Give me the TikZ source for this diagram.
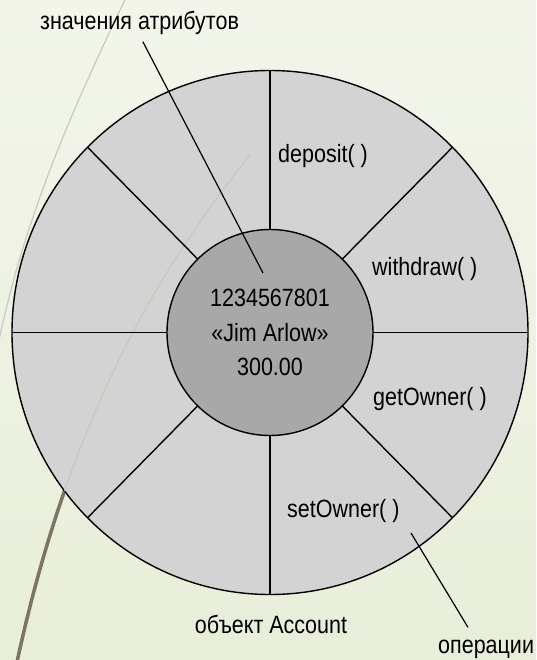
\documentclass[tikz,border=0pt]{standalone}
\usepackage{fontspec}
\setmainfont{Liberation Sans}[FakeStretch=0.86]
\definecolor{paper}{RGB}{243,245,235}
\definecolor{papergreen}{RGB}{232,238,217}
\definecolor{ring}{RGB}{211,211,211}
\definecolor{core}{RGB}{168,168,168}
\definecolor{olive}{RGB}{124,117,96}
\definecolor{streak}{RGB}{200,201,192}
\tikzset{
  lbl/.style={anchor=base west,inner sep=0pt,font=\fontsize{25}{30}\selectfont},
  spoke/.style={line width=1.4pt},
}
\begin{document}
\begin{tikzpicture}[x=1pt,y=-1pt]
\useasboundingbox (0,0) rectangle (536,660);
% slide background
\shade[top color=paper,bottom color=papergreen] (0,0) rectangle (536,660);
\draw[streak,line width=1.2pt] (125,0) .. controls (62,130) and (22,230) .. (-2,345);
\draw[olive,line width=3.5pt] (250,155) .. controls (145,285) and (65,440) .. (17,662);
% the object: ring of operations round the attribute values
\coordinate (c) at (270,332.5);
\draw[line width=1.4pt,fill=ring] (c) ellipse [x radius=258,y radius=262];
\begin{scope}
  \clip (c) ellipse [x radius=258,y radius=262];
  \draw[streak,line width=1.3pt] (250,155) .. controls (145,285) and (65,440) .. (17,662);
\end{scope}
\foreach \a in {0,45,...,315}
  \draw[spoke] (c) -- ++(\a:258 and 262);
\node[circle,draw,line width=1.4pt,fill=core,minimum size=206pt,inner sep=0pt,
      align=center,font=\fontsize{25}{34.5}\selectfont] (obj) at (c)
  {1234567801\\«Jim Arlow»\\300.00};
% operations
\node[lbl] (deposit) at (278,163) {deposit( )};
\node[lbl] (withdraw) at (372,275) {withdraw( )};
\node[lbl] (getowner) at (373,405) {getOwner( )};
\node[lbl] (setowner) at (287,517) {setOwner( )};
% captions
\node[lbl] (attr) at (40,30) {значения атрибутов};
\node[lbl,anchor=base] (account) at (271,633) {объект Account};
\node[lbl] (ops) at (438,653) {операции};
\coordinate (attrtip) at (263,273);
\coordinate (opstip) at (411,533);
\draw[line width=1.2pt,shorten <=7pt] (attr.south) -- (attrtip);
\draw[line width=1.2pt] (opstip) -- ([xshift=30pt,yshift=12pt]ops.north west);
\end{tikzpicture}
\end{document}
